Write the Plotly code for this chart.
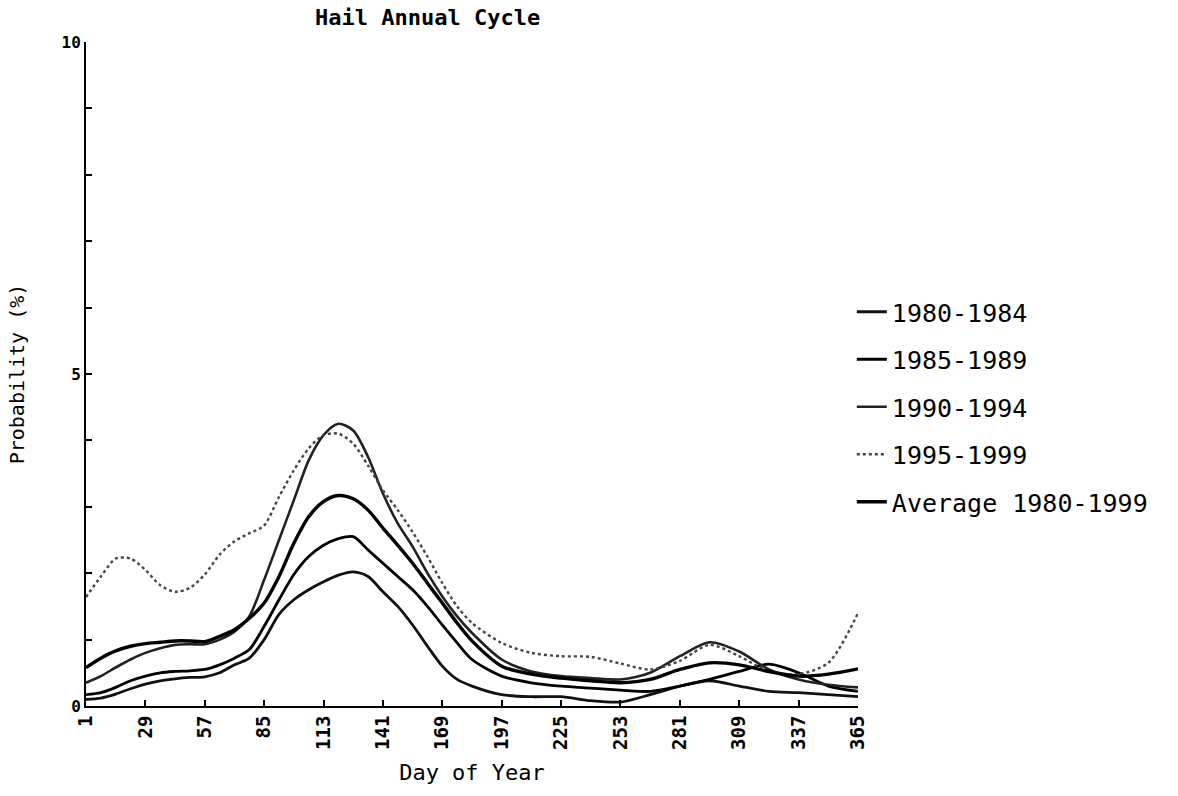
import plotly.graph_objects as go

# Day of year at which each curve is sampled
days = [1, 8, 15, 22, 29, 36, 43, 50, 57, 64, 71, 78, 85, 92, 99, 106, 113, 120,
        127, 134, 141, 148, 155, 162, 169, 176, 183, 197, 211, 225, 239, 253, 267,
        281, 295, 309, 323, 337, 351, 365]

# Probability of hail (%) for each five-year period and the 20-year mean
p_1980_1984 = [0.10, 0.12, 0.18, 0.26, 0.33, 0.38, 0.41, 0.43, 0.44, 0.50, 0.62, 0.72,
               1.00, 1.38, 1.60, 1.75, 1.87, 1.97, 2.02, 1.95, 1.72, 1.50, 1.22, 0.90,
               0.60, 0.40, 0.30, 0.17, 0.14, 0.14, 0.08, 0.06, 0.17, 0.30, 0.38, 0.30,
               0.22, 0.20, 0.17, 0.14]
p_1985_1989 = [0.17, 0.20, 0.28, 0.38, 0.45, 0.50, 0.52, 0.53, 0.55, 0.62, 0.72, 0.85,
               1.20, 1.60, 1.98, 2.25, 2.42, 2.52, 2.55, 2.35, 2.15, 1.95, 1.75, 1.50,
               1.22, 0.95, 0.70, 0.45, 0.35, 0.30, 0.27, 0.24, 0.22, 0.30, 0.40, 0.52,
               0.63, 0.50, 0.30, 0.22]
p_1990_1994 = [0.35, 0.45, 0.58, 0.70, 0.80, 0.87, 0.92, 0.93, 0.93, 1.00, 1.12, 1.35,
               1.90, 2.50, 3.10, 3.70, 4.08, 4.25, 4.15, 3.75, 3.20, 2.75, 2.40, 2.00,
               1.65, 1.35, 1.10, 0.70, 0.52, 0.45, 0.42, 0.40, 0.50, 0.75, 0.96, 0.82,
               0.55, 0.40, 0.32, 0.28]
p_1995_1999 = [1.64, 1.95, 2.22, 2.22, 2.05, 1.82, 1.72, 1.78, 1.98, 2.28, 2.48, 2.60,
               2.72, 3.15, 3.55, 3.88, 4.08, 4.10, 3.95, 3.62, 3.25, 2.95, 2.62, 2.25,
               1.85, 1.50, 1.25, 0.95, 0.80, 0.75, 0.74, 0.64, 0.55, 0.68, 0.92, 0.75,
               0.52, 0.48, 0.65, 1.40]
p_average = [0.58, 0.72, 0.83, 0.90, 0.94, 0.96, 0.98, 0.98, 0.97, 1.05, 1.15, 1.32,
             1.55, 1.95, 2.45, 2.85, 3.08, 3.17, 3.12, 2.95, 2.68, 2.42, 2.15, 1.85,
             1.55, 1.25, 0.98, 0.60, 0.48, 0.42, 0.38, 0.35, 0.40, 0.55, 0.65, 0.62,
             0.52, 0.45, 0.48, 0.56]

x_ticks = [1, 29, 57, 85, 113, 141, 169, 197, 225, 253, 281, 309, 337, 365]
y_ticks = list(range(0, 11))
y_tick_text = ["0", "", "", "", "", "5", "", "", "", "", "10"]

series = [
    ("1980-1984", p_1980_1984, dict(color="#111111", width=2.8)),
    ("1985-1989", p_1985_1989, dict(color="#000000", width=2.8)),
    ("1990-1994", p_1990_1994, dict(color="#222222", width=2.6)),
    ("1995-1999", p_1995_1999, dict(color="#444444", width=2.4, dash="dot")),
    ("Average 1980-1999", p_average, dict(color="#000000", width=3.4)),
]

MONO = "DejaVu Sans Mono"

fig = go.Figure()
for i, (name, vals, line) in enumerate(series):
    fig.add_trace(go.Scatter(
        x=days, y=vals, name=name, mode="lines",
        line=dict(shape="spline", smoothing=0.8, **line),
        legendgroup=f"g{i}",
    ))

fig.update_layout(
    width=1178, height=796,
    paper_bgcolor="white", plot_bgcolor="white",
    margin=dict(l=86, r=320, t=42, b=90, autoexpand=False),
    title=dict(text="<b>Hail Annual Cycle</b>", x=0.363, xanchor="center",
               xref="container", y=0.978, yref="container", yanchor="middle",
               font=dict(family=MONO, size=22, color="black")),
    showlegend=True,
    legend=dict(x=0.992, xanchor="left", y=0.628, yanchor="top",
                font=dict(family=MONO, size=25, color="black"),
                tracegroupgap=12, itemwidth=30, bgcolor="rgba(0,0,0,0)"),
    font=dict(family=MONO, color="black"),
)

fig.update_xaxes(
    range=[1, 365], tickvals=x_ticks, ticktext=[str(t) for t in x_ticks],
    tickangle=-90, tickfont=dict(family=MONO, size=19, color="black", weight="bold"),
    ticks="inside", ticklen=6, tickwidth=2, tickcolor="black",
    showline=True, linecolor="black", linewidth=2, showgrid=False, zeroline=False,
    title=dict(text="Day of Year", font=dict(family=MONO, size=22, color="black"),
               standoff=16),
)
fig.update_yaxes(
    range=[0, 10], tickvals=y_ticks, ticktext=y_tick_text,
    tickfont=dict(family=MONO, size=16, color="black", weight="bold"),
    ticks="inside", ticklen=6, tickwidth=2, tickcolor="black",
    showline=True, linecolor="black", linewidth=2, showgrid=False, zeroline=False,
    title=dict(text="Probability (%)", font=dict(family=MONO, size=20, color="black"),
               standoff=32),
)

fig.write_html("out.html")
